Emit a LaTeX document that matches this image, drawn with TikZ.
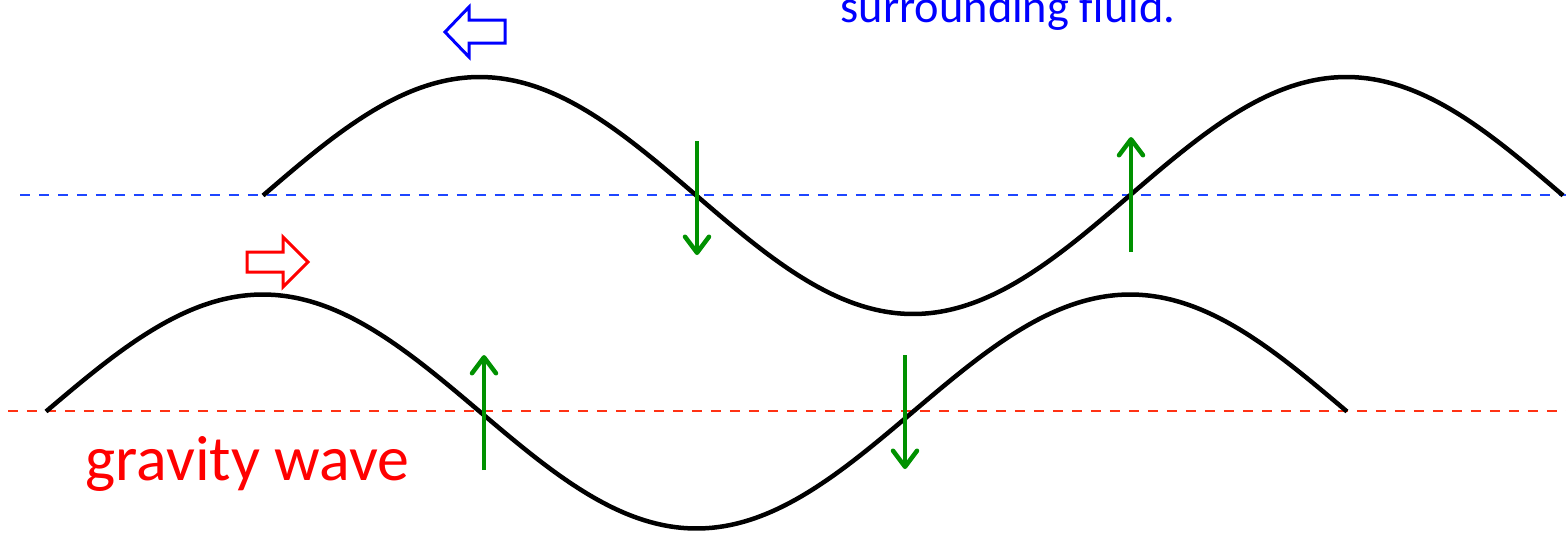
\documentclass[tikz,border=0pt]{standalone}
\usepackage{fontspec}
\setmainfont{Carlito}
\usepackage{tikz}
\usetikzlibrary{arrows.meta}
\definecolor{lineblue}{RGB}{30,70,255}
\definecolor{linered}{RGB}{255,50,20}
\definecolor{flowgreen}{RGB}{0,145,0}

\begin{document}
\begin{tikzpicture}[
  x=0.1mm, y=-0.1mm,
  every node/.style={inner sep=0pt},
  wave/.style    ={draw=black, line width=0.45mm},
  level/.style   ={line width=0.25mm, dash pattern=on 1mm off 0.9mm},
  motion/.style  ={draw=flowgreen, line width=0.45mm,
                   -{Straight Barb[length=1.6mm,width=2.4mm,line cap=round,line join=round]}},
  blockar/.style ={line width=0.3mm, line join=miter}]

\useasboundingbox (0,0) rectangle (1566,533);

% ------------------------- mean levels -------------------------------
\draw[level, lineblue] (20,195) -- (1566,195);
\draw[level, linered] (8,411) -- (1566,411);

% -------------------------- the two waves ----------------------------
% start x, wavelength, mean level, amplitude
\draw[wave] plot[domain=0:540, samples=120, smooth]
  ({263+\x/360*866.7}, {195.5-118.5*sin(\x)});
\draw[wave] plot[domain=0:540, samples=120, smooth]
  ({46+\x/360*867.3}, {411.5-117*sin(\x)});

% ------------------------- vertical motion ---------------------------
\coordinate (ua) at (697,141);  \coordinate (da) at (697,255);
\coordinate (ub) at (1131,252); \coordinate (db) at (1131,137);
\coordinate (uc) at (484,470);  \coordinate (dc) at (484,355);
\coordinate (ud) at (905,355);  \coordinate (dd) at (905,469);
\foreach \a in {a,b,c,d}{\draw[motion] (u\a) -- (d\a);}

% ---------------------- propagation directions -----------------------
\draw[blockar, blue] (505,20) -- (469,20) -- (469,7) -- (445,32)
  -- (469,57) -- (469,43) -- (505,43) -- cycle;
\draw[blockar, red] (247,252) -- (283,252) -- (283,237) -- (308,262)
  -- (283,287) -- (283,272) -- (247,272) -- cycle;

% ------------------------------ labels -------------------------------
\node[anchor=base west, font=\fontsize{13.2pt}{15pt}\selectfont, text=blue]
  (fluid) at (840,22) {surrounding fluid.};
\node[anchor=base west, font=\fontsize{18.2pt}{21pt}\selectfont, text=red]
  (gw) at (85,480) {gravity wave};

\end{tikzpicture}
\end{document}
